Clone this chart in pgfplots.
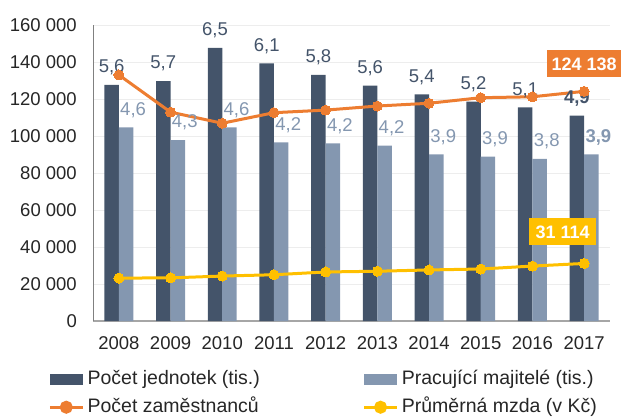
\documentclass[border=0pt]{standalone}
\usepackage{pgfplots}
\usepackage{pgfplotstable}
\pgfplotsset{compat=1.18}
\usepackage{fontspec}
\setmainfont{Liberation Sans}
\definecolor{darkbar}{HTML}{44546A}
\definecolor{lightbar}{HTML}{8497B0}
\definecolor{orng}{HTML}{ED7D31}
\definecolor{yel}{HTML}{FFC000}
\definecolor{txt}{HTML}{262626}
\definecolor{gridc}{HTML}{EDEDED}
\definecolor{axc}{HTML}{A6A6A6}

\pgfplotstableread{
x y lab
-0.14 127600 {5,6}
0.86 129700 {5,7}
1.86 147600 {6,5}
2.86 139300 {6,1}
3.86 133000 {5,8}
4.86 127200 {5,6}
5.86 122500 {5,4}
6.86 118600 {5,2}
7.86 115500 {5,1}
8.86 111000 {\textbf{4,9}}
}\darkdata

\pgfplotstableread{
x y lab
0.14 104700 {4,6}
1.14 97800 {4,3}
2.14 104700 {4,6}
3.14 96600 {4,2}
4.14 96000 {4,2}
5.14 94800 {4,2}
6.14 90100 {3,9}
7.14 88800 {3,9}
8.14 87600 {3,8}
9.14 90100 {\textbf{3,9}}
}\lightdata

\pgfplotstableread{
x y
0 133000
1 112900
2 106900
3 112600
4 114000
5 116200
6 117700
7 120700
8 121200
9 124138
}\orangedata

\pgfplotstableread{
x y
0 23200
1 23300
2 24300
3 25000
4 26500
5 26900
6 27600
7 28100
8 29700
9 31114
}\yellowdata

\begin{document}
\begin{tikzpicture}
\path[use as bounding box] (-93pt,-97pt) rectangle (528pt,321pt);
\begin{axis}[
  at={(0,0)}, anchor=south west,
  scale only axis, width=517pt, height=296pt,
  xmin=-0.5, xmax=9.5, ymin=0, ymax=160000,
  scaled y ticks=false,
  xtick={0,...,9},
  xticklabels={2008,2009,2010,2011,2012,2013,2014,2015,2016,2017},
  ytick={0,20000,40000,60000,80000,100000,120000,140000,160000},
  yticklabels={0,20 000,40 000,60 000,80 000,100 000,120 000,140 000,160 000},
  ymajorgrids, grid style={color=gridc, line width=1pt},
  axis x line*=bottom, axis y line*=left,
  x axis line style={color=axc, line width=2pt, -},
  y axis line style={color=gray, line width=0.8pt, -},
  major tick length=0pt,
  tick label style={font=\fontsize{18.5}{20}\selectfont, text=txt},
  xticklabel style={anchor=north, inner sep=0pt, yshift=-15pt},
  yticklabel style={anchor=east, inner sep=0pt, xshift=-16pt},
  clip=false,
  legend columns=2,
  legend cell align=left,
  legend style={draw=none, fill=none, at={(-0.0865,-0.1680)}, anchor=north west,
    inner sep=0pt, outer sep=0pt, column sep=0pt, row sep=11pt,
    nodes={inner sep=0pt, outer sep=0pt, text height=14pt, text depth=3pt, text=txt,
      font=\fontsize{19.5}{21}\selectfont}},
]
\addplot[ybar, bar width=14.5pt, bar shift=0pt, fill=darkbar, draw=none,
  nodes near coords, point meta=explicit symbolic,
  every node near coord/.append style={anchor=south, inner sep=0pt, yshift=12pt, text depth=0pt,
    text=darkbar, font=\fontsize{18.5}{20}\selectfont},
  legend image code/.code={\fill[darkbar] (0pt,-5.5pt) rectangle (33pt,5.5pt);}]
  table[x=x, y=y, meta=lab] {\darkdata};
\addlegendentry{\makebox[278.3pt][l]{\hspace*{3.3pt}Počet jednotek (tis.)}}
\addplot[ybar, bar width=14.5pt, bar shift=0pt, fill=lightbar, draw=none,
  nodes near coords, point meta=explicit symbolic,
  every node near coord/.append style={anchor=south, inner sep=0pt, yshift=12pt, xshift=7pt, text depth=0pt,
    text=lightbar, font=\fontsize{18.5}{20}\selectfont},
  legend image code/.code={\fill[lightbar] (0pt,-5.5pt) rectangle (33pt,5.5pt);}]
  table[x=x, y=y, meta=lab] {\lightdata};
\addlegendentry{\hspace*{3.3pt}Pracující majitelé (tis.)}
\addplot[orng, line width=3pt, mark=*, mark size=5pt, mark options={fill=orng, draw=orng, line width=0pt},
  legend image code/.code={\draw[orng, line width=3pt] (0pt,0pt) -- (33pt,0pt); \fill[orng] (16.5pt,0pt) circle (5pt);}]
  table[x=x, y=y] {\orangedata};
\addlegendentry{\makebox[278.3pt][l]{\hspace*{3.3pt}Počet zaměstnanců}}
\addplot[yel, line width=3pt, mark=*, mark size=5pt, mark options={fill=yel, draw=yel, line width=0pt},
  legend image code/.code={\draw[yel, line width=3pt] (0pt,0pt) -- (33pt,0pt); \fill[yel] (16.5pt,0pt) circle (5pt);}]
  table[x=x, y=y] {\yellowdata};
\addlegendentry{\hspace*{3.3pt}Průměrná mzda (v Kč)}
% value boxes
\addplot[forget plot, draw=none, mark=none, nodes near coords, point meta=explicit symbolic,
  every node near coord/.append style={anchor=south, yshift=14pt, fill=orng, text=white,
    inner xsep=4.5pt, inner ysep=7pt, text height=13pt, text depth=0pt,
    font=\fontsize{18}{20}\selectfont\bfseries}]
  coordinates {(9,124138) [124 138]};
\addplot[forget plot, draw=none, mark=none, nodes near coords, point meta=explicit symbolic,
  every node near coord/.append style={anchor=south, yshift=18pt, xshift=-21.5pt, fill=yel, text=white,
    inner xsep=6.5pt, inner ysep=7pt, text height=13pt, text depth=0pt,
    font=\fontsize{18}{20}\selectfont\bfseries}]
  coordinates {(9,31114) [31 114]};
\end{axis}
\end{tikzpicture}
\end{document}
